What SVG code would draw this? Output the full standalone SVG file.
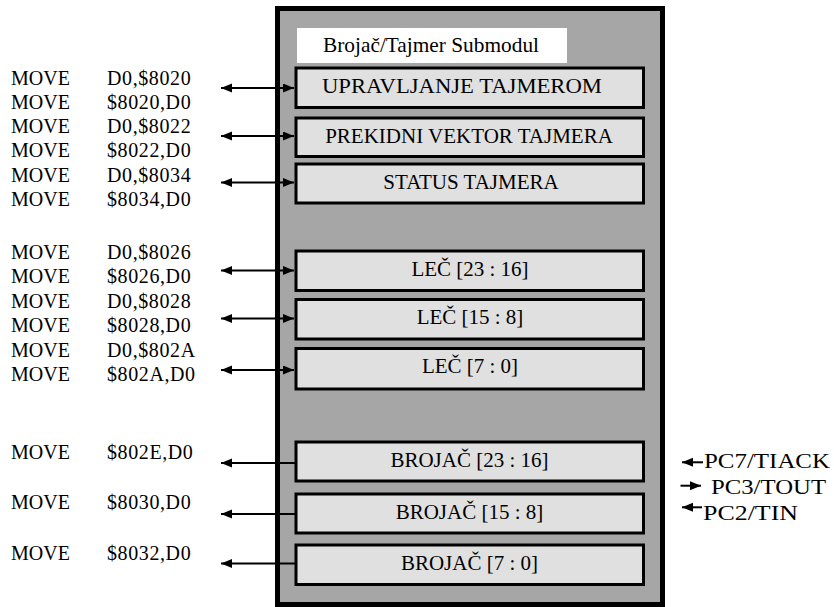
<svg xmlns="http://www.w3.org/2000/svg" width="834" height="607" viewBox="0 0 834 607">
<style>
text{font-family:"Liberation Serif","Times New Roman",serif;fill:#000}
.lbl{font-size:20px}
.op{letter-spacing:0.6px}
.box{fill:#e0e0e0;stroke:#000;stroke-width:3}
.bt{font-size:21px;text-anchor:middle}
.pin{font-size:22px}
.con{stroke:#000;stroke-width:2;fill:none}
</style>
<defs>
<marker id="ah" markerUnits="userSpaceOnUse" markerWidth="12" markerHeight="10" refX="11" refY="4.5" orient="auto-start-reverse">
<path d="M0,0 L11,4.5 L0,9 z" fill="#000"/>
</marker>
</defs>
<g id="submodul">
<rect x="277.5" y="8.5" width="385" height="596" fill="#a6a6a6" stroke="#000" stroke-width="5"/>
<rect x="297" y="28" width="270" height="35" fill="#fff"/>
<text x="323" y="51.5" style="font-size:21px" textLength="216" lengthAdjust="spacingAndGlyphs">Brojač/Tajmer Submodul</text>
</g>
<g id="upravljanje"><rect class="box" x="296" y="68" width="347.5" height="39.5"/><text class="bt" x="462" y="92.5" textLength="280" lengthAdjust="spacingAndGlyphs">UPRAVLJANJE TAJMEROM</text></g>
<g id="vektor"><rect class="box" x="296" y="118" width="347.5" height="38.5"/><text class="bt" x="469" y="142.5">PREKIDNI VEKTOR TAJMERA</text></g>
<g id="status"><rect class="box" x="296" y="164" width="347.5" height="39"/><text class="bt" x="471" y="188.5">STATUS TAJMERA</text></g>
<g id="lec2316"><rect class="box" x="296" y="251" width="347.5" height="39.5"/><text class="bt" x="470" y="275.5">LEČ [23 : 16]</text></g>
<g id="lec158"><rect class="box" x="296" y="299.5" width="347.5" height="39.5"/><text class="bt" x="470" y="324">LEČ [15 : 8]</text></g>
<g id="lec70"><rect class="box" x="296" y="348.5" width="347.5" height="40.5"/><text class="bt" x="470" y="373">LEČ [7 : 0]</text></g>
<g id="brojac2316"><rect class="box" x="296" y="442" width="347.5" height="39"/><text class="bt" x="469.5" y="466.5">BROJAČ [23 : 16]</text></g>
<g id="brojac158"><rect class="box" x="296" y="494" width="347.5" height="39"/><text class="bt" x="469.5" y="518.5">BROJAČ [15 : 8]</text></g>
<g id="brojac70"><rect class="box" x="296" y="545" width="347.5" height="39.5"/><text class="bt" x="469.5" y="569.5">BROJAČ [7 : 0]</text></g>
<g id="instrukcije" class="lbl">
<text x="11" y="84.5">MOVE</text><text class="op" x="107" y="84.5">D0,$8020</text>
<text x="11" y="108.8">MOVE</text><text class="op" x="107" y="108.8">$8020,D0</text>
<text x="11" y="133.1">MOVE</text><text class="op" x="107" y="133.1">D0,$8022</text>
<text x="11" y="157.4">MOVE</text><text class="op" x="107" y="157.4">$8022,D0</text>
<text x="11" y="181.7">MOVE</text><text class="op" x="107" y="181.7">D0,$8034</text>
<text x="11" y="206">MOVE</text><text class="op" x="107" y="206">$8034,D0</text>
<text x="11" y="258.5">MOVE</text><text class="op" x="107" y="258.5">D0,$8026</text>
<text x="11" y="283">MOVE</text><text class="op" x="107" y="283">$8026,D0</text>
<text x="11" y="307.5">MOVE</text><text class="op" x="107" y="307.5">D0,$8028</text>
<text x="11" y="332">MOVE</text><text class="op" x="107" y="332">$8028,D0</text>
<text x="11" y="356.5">MOVE</text><text class="op" x="107" y="356.5">D0,$802A</text>
<text x="11" y="381">MOVE</text><text class="op" x="107" y="381">$802A,D0</text>
<text x="11" y="458.5">MOVE</text><text class="op" x="107" y="458.5">$802E,D0</text>
<text x="11" y="509">MOVE</text><text class="op" x="107" y="509">$8030,D0</text>
<text x="11" y="559.5">MOVE</text><text class="op" x="107" y="559.5">$8032,D0</text>
</g>
<g id="pinovi" class="pin">
<text x="704" y="468.3" textLength="126" lengthAdjust="spacingAndGlyphs">PC7/TIACK</text>
<text x="711" y="494" textLength="115" lengthAdjust="spacingAndGlyphs">PC3/TOUT</text>
<text x="703" y="520" textLength="95" lengthAdjust="spacingAndGlyphs">PC2/TIN</text>
</g>
<g id="connectors" class="con">
<line x1="221" y1="88" x2="294" y2="88" marker-start="url(#ah)" marker-end="url(#ah)"/>
<line x1="221" y1="136" x2="294" y2="136" marker-start="url(#ah)" marker-end="url(#ah)"/>
<line x1="221" y1="182.5" x2="294" y2="182.5" marker-start="url(#ah)" marker-end="url(#ah)"/>
<line x1="221" y1="270.5" x2="294" y2="270.5" marker-start="url(#ah)" marker-end="url(#ah)"/>
<line x1="221" y1="318.5" x2="294" y2="318.5" marker-start="url(#ah)" marker-end="url(#ah)"/>
<line x1="221" y1="370" x2="294" y2="370" marker-start="url(#ah)" marker-end="url(#ah)"/>
<line x1="296" y1="463" x2="221" y2="463" marker-end="url(#ah)"/>
<line x1="296" y1="514" x2="221" y2="514" marker-end="url(#ah)"/>
<line x1="296" y1="563.5" x2="221" y2="563.5" marker-end="url(#ah)"/>
<line x1="703" y1="462.3" x2="682" y2="462.3" marker-end="url(#ah)"/>
<line x1="680.5" y1="485.7" x2="701" y2="485.7" marker-end="url(#ah)"/>
<line x1="702" y1="507.3" x2="682" y2="507.3" marker-end="url(#ah)"/>
</g>
</svg>
